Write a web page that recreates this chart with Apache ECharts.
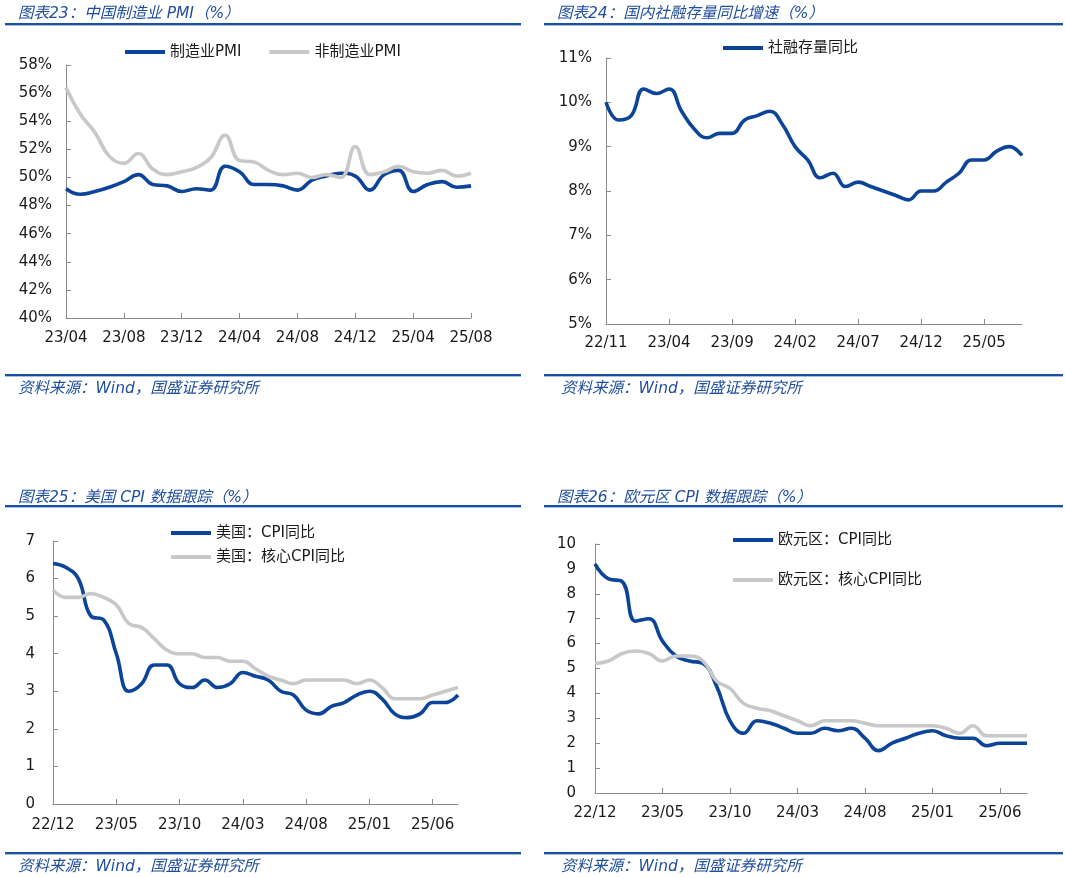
<!DOCTYPE html>
<html>
<head>
<meta charset="utf-8">
<script src="https://cdn.jsdelivr.net/npm/echarts@6/dist/echarts.min.js"></script>
<style>html,body{margin:0;padding:0;background:#fff;}#c{width:1065px;height:878px;}</style>
</head>
<body>
<div id="c"></div>
<script>
// ---- Data ----
const pmiCats = ['23/04','23/05','23/06','23/07','23/08','23/09','23/10','23/11','23/12','24/01','24/02','24/03','24/04','24/05','24/06','24/07','24/08','24/09','24/10','24/11','24/12','25/01','25/02','25/03','25/04','25/05','25/06','25/07','25/08'];
const pmiMfg = [49.2,48.8,49.0,49.3,49.7,50.2,49.5,49.4,49.0,49.2,49.1,50.8,50.4,49.5,49.5,49.4,49.1,49.8,50.1,50.3,50.1,49.1,50.2,50.5,49.0,49.5,49.7,49.3,49.4];
const pmiNonMfg = [56.4,54.5,53.2,51.5,51.0,51.7,50.6,50.2,50.4,50.7,51.4,53.0,51.2,51.1,50.5,50.2,50.3,50.0,50.2,50.0,52.2,50.2,50.4,50.8,50.4,50.3,50.5,50.1,50.3];

const tsfCats = ['22/11','22/12','23/01','23/02','23/03','23/04','23/05','23/06','23/07','23/08','23/09','23/10','23/11','23/12','24/01','24/02','24/03','24/04','24/05','24/06','24/07','24/08','24/09','24/10','24/11','24/12','25/01','25/02','25/03','25/04','25/05','25/06','25/07','25/08'];
const tsfYoY = [10.0,9.6,9.7,10.3,10.2,10.3,9.8,9.4,9.2,9.3,9.3,9.6,9.7,9.8,9.5,9.0,8.7,8.3,8.4,8.1,8.2,8.1,8.0,7.9,7.8,8.0,8.0,8.2,8.4,8.7,8.7,8.9,9.0,8.8];

const cpiCats = ['22/12','23/01','23/02','23/03','23/04','23/05','23/06','23/07','23/08','23/09','23/10','23/11','23/12','24/01','24/02','24/03','24/04','24/05','24/06','24/07','24/08','24/09','24/10','24/11','24/12','25/01','25/02','25/03','25/04','25/05','25/06','25/07','25/08'];
const usCpi = [6.4,6.3,6.0,5.0,4.9,4.0,3.0,3.2,3.7,3.7,3.2,3.1,3.3,3.1,3.2,3.5,3.4,3.3,3.0,2.9,2.5,2.4,2.6,2.7,2.9,3.0,2.8,2.4,2.3,2.4,2.7,2.7,2.9];
const usCore = [5.7,5.5,5.5,5.6,5.5,5.3,4.8,4.7,4.4,4.1,4.0,4.0,3.9,3.9,3.8,3.8,3.6,3.4,3.3,3.2,3.3,3.3,3.3,3.3,3.2,3.3,3.1,2.8,2.8,2.8,2.9,3.0,3.1];
const euCpi = [9.2,8.6,8.5,6.9,7.0,6.1,5.5,5.3,5.2,4.3,2.9,2.4,2.9,2.8,2.6,2.4,2.4,2.6,2.5,2.6,2.2,1.7,2.0,2.2,2.4,2.5,2.3,2.2,2.2,1.9,2.0,2.0,2.0];
const euCore = [5.2,5.3,5.6,5.7,5.6,5.3,5.5,5.5,5.3,4.5,4.2,3.6,3.4,3.3,3.1,2.9,2.7,2.9,2.9,2.9,2.8,2.7,2.7,2.7,2.7,2.7,2.6,2.4,2.7,2.3,2.3,2.3,2.3];

const titles = ['图表23：中国制造业 PMI（%）','图表24：国内社融存量同比增速（%）','图表25：美国 CPI 数据跟踪（%）','图表26：欧元区 CPI 数据跟踪（%）'];
const sourceText = '资料来源：Wind，国盛证券研究所';
const names = {mfg:'制造业PMI', non:'非制造业PMI', tsf:'社融存量同比', us1:'美国：CPI同比', us2:'美国：核心CPI同比', eu1:'欧元区：CPI同比', eu2:'欧元区：核心CPI同比'};

// ---- Styles ----
const FONT = "'DejaVu Sans','Noto Sans CJK SC',sans-serif";
const BLUE = '#0B4499';
const GREY = '#C8C8C8';
const AX = '#8A8A8A';
const TXT = '#1a1a1a';
const TITLEC = '#1F4E9E';

function xAxis(gi, cats, interval, margin){
  return {type:'category', gridIndex:gi, data:cats, boundaryGap:false,
    axisLine:{lineStyle:{color:AX,width:1}},
    axisTick:{inside:true,length:5,interval:interval,lineStyle:{color:AX}},
    axisLabel:{interval:interval,margin:margin,color:TXT,fontSize:15,fontFamily:FONT},
    splitLine:{show:false}};
}
function yAxis(gi, min, max, interval, fmt, margin){
  return {type:'value', gridIndex:gi, min:min, max:max, interval:interval,
    axisLine:{show:true,lineStyle:{color:AX,width:1}},
    axisTick:{show:true,inside:true,length:5,lineStyle:{color:AX}},
    axisLabel:{formatter:fmt,margin:margin,color:TXT,fontSize:15,fontFamily:FONT},
    splitLine:{show:false}};
}
function line(name, gi, data, color){
  return {type:'line', name:name, xAxisIndex:gi, yAxisIndex:gi, data:data, smooth:0.45,
    showSymbol:false, symbol:'none', lineStyle:{color:color,width:3.6}, itemStyle:{color:color}};
}
function legend(items, left, top, gap){
  return {data:items, left:left, top:top, orient:'horizontal', itemGap:gap||28, itemWidth:40, itemHeight:4,
    icon:'rect', padding:0, itemStyle:{borderWidth:0},
    textStyle:{color:TXT,fontSize:15,fontFamily:FONT,lineHeight:16,padding:[0,0,0,0]}, selectedMode:false};
}

const graphic = [];
function txt(t, x, y){
  graphic.push({type:'text', left:x, top:y, style:{text:t, fill:TITLEC, font:"italic 15.5px 'DejaVu Sans','Noto Sans CJK SC',sans-serif"}});
}
function rule(x1, x2, y){
  graphic.push({type:'rect', shape:{x:x1,y:y,width:x2-x1,height:2}, style:{fill:'#1B4FA3'}});
  graphic.push({type:'rect', shape:{x:x1,y:y+2,width:x2-x1,height:1}, style:{fill:'#A9BDE0'}});
}
// titles & rules
txt(titles[0], 18, 6); rule(5, 521, 23);
txt(titles[1], 557, 6); rule(544, 1063, 23);
txt(titles[2], 18, 490); rule(5, 521, 505);
txt(titles[3], 557, 490); rule(544, 1063, 505);
// footers
rule(5, 521, 374); txt(sourceText, 18, 381);
rule(544, 1063, 374); txt(sourceText, 561, 381);
rule(5, 521, 852); txt(sourceText, 18, 859);
rule(544, 1063, 852); txt(sourceText, 561, 859);

const option = {
  animation:false,
  backgroundColor:'#fff',
  textStyle:{fontFamily:FONT},
  graphic: graphic,
  grid:[
    {left:66, top:65, width:405, height:253},
    {left:606, top:58, width:416, height:266},
    {left:53, top:541, width:405, height:263},
    {left:595, top:544, width:432, height:249}
  ],
  legend:[
    legend([names.mfg, names.non], 125, 44, 28),
    legend([names.tsf], 723, 40),
    legend([names.us1], 171, 525),
    legend([names.us2], 171, 549),
    legend([names.eu1], 733, 532),
    legend([names.eu2], 733, 572)
  ],
  xAxis:[
    xAxis(0, pmiCats, 3, 13),
    xAxis(1, tsfCats, 4, 12),
    xAxis(2, cpiCats, 4, 14),
    xAxis(3, cpiCats, 4, 13)
  ],
  yAxis:[
    yAxis(0, 40, 58, 2, '{value}%', 14),
    yAxis(1, 5, 11, 1, '{value}%', 14),
    yAxis(2, 0, 7, 1, '{value}', 18),
    yAxis(3, 0, 10, 1, '{value}', 19)
  ],
  series:[
    line(names.mfg, 0, pmiMfg, BLUE),
    line(names.non, 0, pmiNonMfg, GREY),
    line(names.tsf, 1, tsfYoY, BLUE),
    line(names.us1, 2, usCpi, BLUE),
    line(names.us2, 2, usCore, GREY),
    line(names.eu1, 3, euCpi, BLUE),
    line(names.eu2, 3, euCore, GREY)
  ]
};
const chart = echarts.init(document.getElementById('c'), null, {renderer:'canvas'});
chart.setOption(option);
</script>
</body>
</html>
